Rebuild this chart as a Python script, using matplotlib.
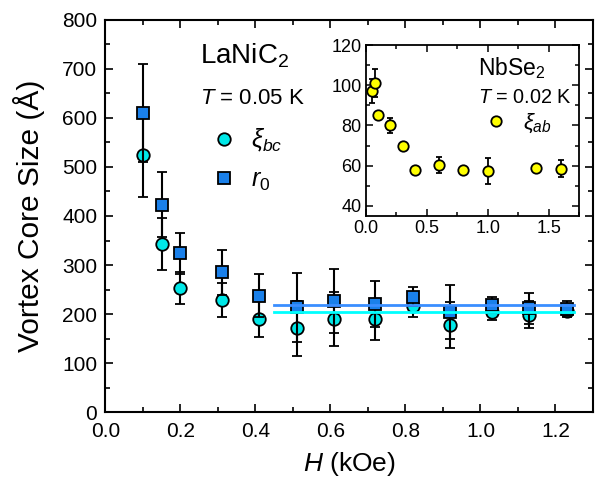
import numpy as np
import matplotlib
matplotlib.use("Agg")
import matplotlib.pyplot as plt
from matplotlib.ticker import MultipleLocator
from matplotlib.lines import Line2D

plt.rcParams['font.family'] = ['Liberation Sans', 'DejaVu Sans']
plt.rcParams['mathtext.fontset'] = 'custom'
plt.rcParams['mathtext.rm'] = 'Liberation Sans'
plt.rcParams['mathtext.it'] = 'Liberation Sans:italic'

# LaNiC2 main panel
field = [0.10, 0.15, 0.20, 0.31, 0.41, 0.51, 0.61, 0.72, 0.82, 0.92, 1.03, 1.13, 1.23]
xi_bc = [525, 343, 254, 229, 190, 171, 190, 190, 217, 178, 205, 199, 207]
xi_bc_err = [87, 53, 33, 35, 36, 55, 55, 42, 22, 47, 17, 27, 13]
r0 = [610, 423, 324, 285, 238, 214, 227, 221, 236, 205, 219, 212, 211]
r0_err = [100, 66, 42, 45, 43, 70, 65, 47, 20, 55, 17, 31, 15]

# high-field averages
fit_range = [0.45, 1.25]
r0_avg = 218
xi_bc_avg = 205

# NbSe2 inset
field_nb = [0.047, 0.074, 0.10, 0.20, 0.30, 0.40, 0.60, 0.80, 1.00, 1.40, 1.60]
xi_ab = [97, 101, 85, 80, 70, 58, 60.5, 57.7, 57.4, 59, 58.6]
xi_ab_err = [6, 7, 0, 3.6, 0, 0, 4, 0, 6.5, 0, 4]

cyan = '#00e8e8'
blue = '#1a80ea'
yellow = '#ffff00'

fig = plt.figure(figsize=(6.02, 4.83), dpi=100)
ax = fig.add_axes([0.1752, 0.146, 0.8098, 0.8136])

ax.errorbar(field, xi_bc, yerr=xi_bc_err, fmt='o', color='black', ecolor='black',
            elinewidth=1.5, capsize=3.3, capthick=1.5, mfc=cyan, mec='black',
            mew=1.3, ms=9, zorder=3)
ax.errorbar(field, r0, yerr=r0_err, fmt='s', color='black', ecolor='black',
            elinewidth=1.5, capsize=3.3, capthick=1.5, mfc=blue, mec='black',
            mew=1.3, ms=8, zorder=4)
ax.plot(fit_range, [r0_avg, r0_avg], color='#3a8eff', lw=2, zorder=5)
ax.plot(fit_range, [xi_bc_avg, xi_bc_avg], color='#00ffff', lw=2, zorder=5)

ax.set_xlim(0, 1.3)
ax.set_ylim(0, 800)
ax.xaxis.set_major_locator(MultipleLocator(0.2))
ax.xaxis.set_minor_locator(MultipleLocator(0.1))
ax.yaxis.set_major_locator(MultipleLocator(100))
ax.yaxis.set_minor_locator(MultipleLocator(50))
ax.tick_params(which='both', direction='in', top=True, right=True, width=1.2,
               labelsize=15)
ax.tick_params(axis='x', pad=7)
ax.tick_params(axis='y', pad=6)
ax.tick_params(which='major', length=6)
ax.tick_params(which='minor', length=3.5)
for s in ax.spines.values():
    s.set_linewidth(1.5)
ax.set_xlabel(r'$H$ (kOe)', fontsize=19, labelpad=6)
ax.set_ylabel('Vortex Core Size (Å)', fontsize=21.5, labelpad=12)

ax.text(0.194, 0.888, r'LaNiC$_2$', transform=ax.transAxes, fontsize=20,
        ha='left', va='baseline')
ax.text(0.194, 0.785, r'$T$ = 0.05 K', transform=ax.transAxes, fontsize=16,
        ha='left', va='baseline')
main_handles = [
    Line2D([], [], ls='none', marker='o', ms=9, mfc=cyan, mec='black', mew=1.3),
    Line2D([], [], ls='none', marker='s', ms=8, mfc=blue, mec='black', mew=1.3),
]
ax.legend(main_handles, [r'$\xi_{bc}$', r'$r_0$'], loc='upper left',
          bbox_to_anchor=(0.217, 0.727), frameon=False, fontsize=18,
          borderpad=0, borderaxespad=0, handletextpad=0.6,
          labelspacing=0.57, handlelength=1.0)

# inset
ins = fig.add_axes([0.608, 0.5528, 0.3538, 0.354])
ins.errorbar(field_nb, xi_ab, yerr=xi_ab_err, fmt='o', color='black',
             ecolor='black', elinewidth=1.3, capsize=2.2, capthick=1.3,
             mfc=yellow, mec='black', mew=1.3, ms=7.5, zorder=3)
ins.set_xlim(0, 1.75)
ins.set_ylim(35, 120)
ins.xaxis.set_major_locator(MultipleLocator(0.5))
ins.xaxis.set_minor_locator(MultipleLocator(0.25))
ins.yaxis.set_major_locator(MultipleLocator(20))
ins.yaxis.set_minor_locator(MultipleLocator(10))
ins.tick_params(which='both', direction='in', top=True, right=True, width=1.1,
                labelsize=13, pad=3)
ins.tick_params(which='major', length=5)
ins.tick_params(which='minor', length=3)
for s in ins.spines.values():
    s.set_linewidth(1.3)
ins.text(0.526, 0.825, r'NbSe$_2$', transform=ins.transAxes, fontsize=16.5,
         ha='left', va='baseline')
ins.text(0.526, 0.659, r'$T$ = 0.02 K', transform=ins.transAxes, fontsize=14.3,
         ha='left', va='baseline')
ins_handles = [
    Line2D([], [], ls='none', marker='o', ms=7.5, mfc=yellow, mec='black', mew=1.3),
]
ins.legend(ins_handles, [r'$\xi_{ab}$'], loc='center left',
           bbox_to_anchor=(0.559, 0.544), frameon=False, fontsize=16,
           borderpad=0, borderaxespad=0, handletextpad=0.7, handlelength=1.0)

fig.savefig('out.png', dpi=100)
